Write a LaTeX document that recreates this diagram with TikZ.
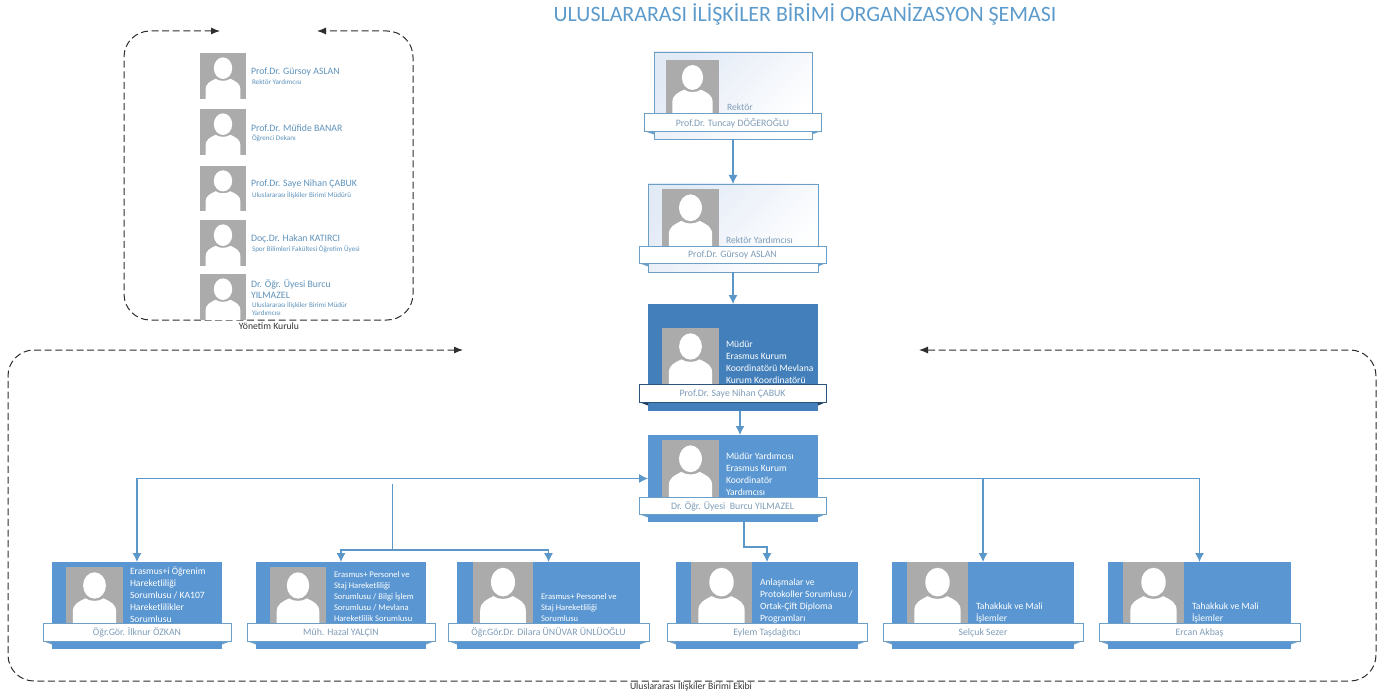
\documentclass[tikz,border=0pt]{standalone}
\usepackage{fontspec}
\setmainfont{Carlito}
\usetikzlibrary{arrows.meta,calc}
\definecolor{cardblue}{HTML}{5A97D2}
\definecolor{carddark}{HTML}{437FBA}
\definecolor{linkblue}{HTML}{5B97C9}
\definecolor{framegray}{HTML}{2E2E2E}
\definecolor{photogray}{HTML}{ABABAB}
\definecolor{softtext}{HTML}{7F9DB8}
\definecolor{nametext}{HTML}{5F93BC}
\definecolor{titleblue}{HTML}{5C9BCB}
\definecolor{paleblue}{HTML}{E2EAF6}
\definecolor{edgeblue}{HTML}{6B9FC8}
\tikzset{
  conn/.style={draw=linkblue,line width=1.1pt,-{Latex[length=9pt,width=9pt]}},
  plainconn/.style={draw=linkblue,line width=1.1pt},
  frame/.style={draw=framegray,line width=1pt,dash pattern=on 7pt off 3.6pt,rounded corners=26pt,{Latex[length=9pt,width=7pt]}-{Latex[length=9pt,width=7pt]}},
  box/.style={rectangle,inner sep=0pt,outer sep=0pt},
  lightcard/.style={box,draw=edgeblue,line width=0.8pt,left color=paleblue,middle color=white,right color=white,shading angle=45},
  bluecard/.style={box,fill=cardblue},
  darkcard/.style={box,fill=carddark},
  bannerbox/.style={box,fill=white,draw=edgeblue,line width=0.8pt},
  bannerlabel/.style={box,yshift=-0.8pt,text=softtext,font=\fontsize{9.8}{11}\selectfont},
  darkbanner/.style={bannerbox,draw=black!35!carddark},
  photobox/.style={box,fill=photogray},
  cardtext/.style={box,anchor=west,align=left,text=white,font=\fontsize{9.6}{12}\selectfont},
  smalltext/.style={cardtext,font=\fontsize{8.6}{11}\selectfont},
  softcardtext/.style={cardtext,text=softtext},
  nametxt/.style={box,anchor=west,align=left,text=nametext,font=\fontsize{9.8}{11}\selectfont},
  roletxt/.style={box,anchor=west,align=left,text=nametext,font=\fontsize{7.1}{8}\selectfont},
  captiontxt/.style={box,text=black!80,font=\fontsize{9.7}{10}\selectfont},
}
% rectangle node given by its corners
\newcommand{\rectnode}[7]{%
  \pgfmathsetmacro{\rw}{#5-#3}\pgfmathsetmacro{\rh}{#6-#4}%
  \node[#2,minimum width=\rw pt,minimum height=\rh pt] (#1) at ({(#3+#5)/2},{(#4+#6)/2}) {#7};}
% portrait placeholder
\newcommand{\portrait}[5]{%
  \rectnode{#1}{photobox}{#2}{#3}{#4}{#5}{}%
  \pgfmathsetmacro{\pw}{#4-#2}\pgfmathsetmacro{\ph}{#5-#3}%
  \begin{scope}[shift={(#2,#3)},x=\pw pt,y=-\ph pt]
    \fill[white] (0.12,1) -- (0.12,0.80) .. controls (0.12,0.66) and (0.22,0.62) .. (0.34,0.56)
      .. controls (0.42,0.62) and (0.58,0.62) .. (0.66,0.56)
      .. controls (0.78,0.62) and (0.88,0.66) .. (0.88,0.80) -- (0.88,1) -- cycle;
    \fill[white] (0.5,0.33) ellipse[x radius=0.2,y radius=0.235];
  \end{scope}}
% ribbon across a card, with folded ends
\newcommand{\ribbon}[8]{%
  \fill[#8] (#3,#6) -- ($(#2.south west |- 0,#6)+(0,3.5)$) -- ($(#2.south west |- 0,#6)$) -- cycle;
  \fill[#8] (#5,#6) -- ($(#2.south east |- 0,#6)+(0,3.5)$) -- ($(#2.south east |- 0,#6)$) -- cycle;
  \rectnode{#1}{#7}{#3}{#4}{#5}{#6}{}}
\begin{document}
\begin{tikzpicture}[x=1pt,y=-1pt]
\useasboundingbox (0,0) rectangle (1385,698);
\fill[white] (0,0) rectangle (1385,698);

\node[box,text=titleblue,font=\fontsize{21.9}{24}\selectfont] (title) at (805,14) {ULUSLARARASI İLİŞKİLER BİRİMİ ORGANİZASYON ŞEMASI};

% ---------- frames
\coordinate (fa1) at (220,31); \coordinate (fa2) at (124,31); \coordinate (fa3) at (124,320);
\coordinate (fa4) at (413,320); \coordinate (fa5) at (413,31); \coordinate (fa6) at (317,31);
\draw[frame] (fa1) -- (fa2) -- (fa3) -- (fa4) -- (fa5) -- (fa6);
\coordinate (fb1) at (463,350); \coordinate (fb2) at (8,350); \coordinate (fb3) at (8,681);
\coordinate (fb4) at (1376,681); \coordinate (fb5) at (1376,350); \coordinate (fb6) at (919,350);
\draw[frame] (fb1) -- (fb2) -- (fb3) -- (fb4) -- (fb5) -- (fb6);
\node[captiontxt] (cap1) at (269,326) {Yönetim Kurulu};
\node[captiontxt] (cap2) at (691,686) {Uluslararası İlişkiler Birimi Ekibi};

% ---------- board list
\portrait{p1}{200}{53}{246}{99}
\node[nametxt] (n1) at (251,72) {Prof.Dr. Gürsoy ASLAN};
\node[roletxt] (r1) at (252,82) {Rektör Yardımcısı};
\portrait{p2}{200}{109}{246}{155}
\node[nametxt] (n2) at (251,128) {Prof.Dr. Müfide BANAR};
\node[roletxt] (r2) at (252,138) {Öğrenci Dekanı};
\portrait{p3}{200}{166}{246}{211}
\node[nametxt] (n3) at (251,184) {Prof.Dr. Saye Nihan ÇABUK};
\node[roletxt] (r3) at (252,195) {Uluslararası İlişkiler Birimi Müdürü};
\portrait{p4}{200}{220}{246}{266}
\node[nametxt] (n4) at (251,239) {Doç.Dr. Hakan KATIRCI};
\node[roletxt] (r4) at (252,249) {Spor Bilimleri Fakültesi Öğretim Üyesi};
\portrait{p5}{200}{274}{246}{320}
\node[nametxt] (n5) at (251,284) {Dr. Öğr. Üyesi Burcu};
\node[nametxt] (n5b) at (251,295) {YILMAZEL};
\node[roletxt] (r5) at (252,305) {Uluslararası İlişkiler Birimi Müdür};
\node[roletxt] (r5b) at (252,313) {Yardımcısı};

% ---------- central column
\rectnode{c1}{lightcard}{654}{52}{812}{139}{}
\portrait{c1p}{666}{60}{719}{113}
\node[softcardtext] (c1t) at (727,107) {Rektör};
\ribbon{c1b}{c1}{644}{113}{821}{131}{bannerbox}{edgeblue}
\node[bannerlabel] (c1n) at (c1b) {Prof.Dr. Tuncay DÖĞEROĞLU};

\rectnode{c2}{lightcard}{648}{184}{818}{272}{}
\portrait{c2p}{662}{189}{719}{246}
\node[softcardtext] (c2t) at (726,240) {Rektör Yardımcısı};
\ribbon{c2b}{c2}{639}{246}{826}{263}{bannerbox}{edgeblue}
\node[bannerlabel] (c2n) at (c2b) {Prof.Dr. Gürsoy ASLAN};

\rectnode{c3}{darkcard}{648}{304}{818}{411}{}
\portrait{c3p}{662}{328}{719}{384}
\node[cardtext] (c3t) at (726,362) {Müdür\\Erasmus Kurum\\Koordinatörü Mevlana\\Kurum Koordinatörü};
\ribbon{c3b}{c3}{639}{384}{826}{402}{darkbanner}{black!55!carddark}
\node[bannerlabel] (c3n) at (c3b) {Prof.Dr. Saye Nihan ÇABUK};

\rectnode{c4}{bluecard}{648}{435}{818}{522}{}
\portrait{c4p}{662}{440}{719}{497}
\node[cardtext] (c4t) at (726,474) {Müdür Yardımcısı\\Erasmus Kurum\\Koordinatör\\Yardımcısı};
\ribbon{c4b}{c4}{639}{497}{826}{514}{bannerbox}{edgeblue}
\node[bannerlabel] (c4n) at (c4b) {Dr. Öğr. Üyesi\ \ Burcu YILMAZEL};

% ---------- staff row
\rectnode{d1}{bluecard}{52}{562}{222}{649}{}
\portrait{d1p}{66}{567}{123}{623}
\node[cardtext] (d1t) at (130,595) {Erasmus+i Öğrenim\\Hareketliliği\\Sorumlusu / KA107\\Hareketlilikler\\Sorumlusu};
\ribbon{d1b}{d1}{43}{623}{231}{641}{bannerbox}{edgeblue}
\node[bannerlabel] (d1n) at (d1b) {Öğr.Gör. İlknur ÖZKAN};

\rectnode{d2}{bluecard}{256}{562}{426}{649}{}
\portrait{d2p}{270}{567}{326}{623}
\node[smalltext] (d2t) at (334,597) {Erasmus+ Personel ve\\Staj Hareketliliği\\Sorumlusu / Bilgi İşlem\\Sorumlusu / Mevlana\\Hareketlilik Sorumlusu};
\ribbon{d2b}{d2}{247}{623}{435}{641}{bannerbox}{edgeblue}
\node[bannerlabel] (d2n) at (d2b) {Müh. Hazal YALÇIN};

\rectnode{d3}{bluecard}{457}{562}{640}{649}{}
\portrait{d3p}{473}{562}{533}{623}
\node[smalltext] (d3t) at (541,608) {Erasmus+ Personel ve\\Staj Hareketliliği\\Sorumlusu};
\ribbon{d3b}{d3}{448}{623}{649}{641}{bannerbox}{edgeblue}
\node[bannerlabel] (d3n) at (d3b) {Öğr.Gör.Dr. Dilara ÜNÜVAR ÜNLÜOĞLU};

\rectnode{d4}{bluecard}{676}{562}{858}{649}{}
\portrait{d4p}{691}{562}{752}{623}
\node[cardtext] (d4t) at (760,601) {Anlaşmalar ve\\Protokoller Sorumlusu /\\Ortak-Çift Diploma\\Programları};
\ribbon{d4b}{d4}{667}{623}{867}{641}{bannerbox}{edgeblue}
\node[bannerlabel] (d4n) at (d4b) {Eylem Taşdağıtıcı};

\rectnode{d5}{bluecard}{892}{562}{1074}{649}{}
\portrait{d5p}{907}{562}{968}{623}
\node[cardtext] (d5t) at (976,612.5) {Tahakkuk ve Mali\\İşlemler};
\ribbon{d5b}{d5}{883}{623}{1083}{641}{bannerbox}{edgeblue}
\node[bannerlabel] (d5n) at (d5b) {Selçuk Sezer};

\rectnode{d6}{bluecard}{1108}{562}{1291}{649}{}
\portrait{d6p}{1123}{562}{1184}{623}
\node[cardtext] (d6t) at (1192,612.5) {Tahakkuk ve Mali\\İşlemler};
\ribbon{d6b}{d6}{1099}{623}{1300}{641}{bannerbox}{edgeblue}
\node[bannerlabel] (d6n) at (d6b) {Ercan Akbaş};

% ---------- connectors
\draw[conn] (c1.south) -- (c2.north);
\draw[conn] (c2.south) -- (c3.north);
\draw[conn] ([xshift=7pt]c3.south) -- ([xshift=7pt]c4.north);
\draw[conn,{Latex[length=9pt,width=9pt]}-{Latex[length=9pt,width=9pt]}] (d1.north) |- (c4.west);
\coordinate (busTop) at (392.5,484);
\coordinate (busMid) at (392.5,550);
\draw[plainconn] (busTop) -- (busMid);
\draw[conn] (busMid) -| (d2.north);
\draw[conn] (busMid) -| (d3.north);
\draw[conn] ([xshift=11pt]c4.south) -- ++(0,25) -| (d4.north);
\draw[conn] (c4.east) -| (d5.north);
\draw[conn] (c4.east) -| (d6.north);
\end{tikzpicture}
\end{document}
